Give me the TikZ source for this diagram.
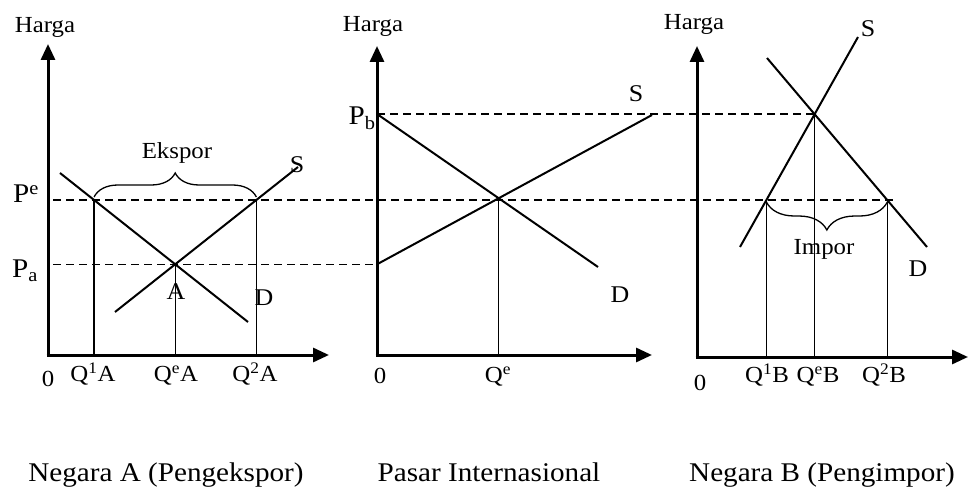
\documentclass[tikz,border=0pt]{standalone}
\usepackage{fontspec}
\setmainfont{Liberation Serif}[FakeStretch=1.08]
\usetikzlibrary{arrows.meta,decorations.pathreplacing}
\begin{document}
\begin{tikzpicture}[x=1bp,y=-1bp,
  axis/.style={line width=3bp,-{Triangle[length=16bp,width=14bp]}},
  curve/.style={line width=2bp},
  guide/.style={line width=1.3bp},
  dashline/.style={line width=1.6bp,dash pattern=on 8bp off 5bp},
  bracestyle/.style={line width=1.3bp,decorate},
  lbl/.style={anchor=base,inner sep=0pt,font=\fontsize{23bp}{25bp}\selectfont},
  plbl/.style={anchor=base,inner sep=0pt,font=\fontsize{27bp}{29bp}\selectfont},
  clbl/.style={anchor=base,inner sep=0pt,font=\fontsize{24bp}{26bp}\selectfont},
  captionlbl/.style={anchor=base,inner sep=0pt,font=\fontsize{27bp}{29bp}\selectfont}]
\useasboundingbox (0,0) rectangle (970,489);

% ---------- coordinates ----------
% left panel
\coordinate (O1) at (48,355);
\coordinate (Y1) at (48,44);
\coordinate (X1) at (329,355);
\coordinate (D1a) at (60,173);
\coordinate (D1b) at (248,322);
\coordinate (S1a) at (115,312);
\coordinate (S1b) at (298,167);
\coordinate (PeL) at (53,200);
\coordinate (PeR) at (895,200);
\coordinate (EA) at (intersection of D1a--D1b and S1a--S1b);
\coordinate (Q1A) at (intersection of D1a--D1b and PeL--PeR);
\coordinate (Q2A) at (intersection of S1a--S1b and PeL--PeR);
% middle panel
\coordinate (O2) at (377,355);
\coordinate (Y2) at (377,46);
\coordinate (X2) at (652,355);
\coordinate (D2a) at (377,114);
\coordinate (D2b) at (598,267);
\coordinate (S2a) at (O2 |- EA);
\coordinate (S2b) at (652,115);
\coordinate (E2) at (intersection of D2a--D2b and S2a--S2b);
% right panel
\coordinate (O3) at (697,357);
\coordinate (Y3) at (697,46);
\coordinate (X3) at (968,357);
\coordinate (S3a) at (740,247);
\coordinate (S3b) at (858,37);
\coordinate (D3a) at (767,58);
\coordinate (D3b) at (927,247);
\coordinate (E3) at (intersection of S3a--S3b and D3a--D3b);
\coordinate (Q1B) at (intersection of S3a--S3b and PeL--PeR);
\coordinate (Q2B) at (intersection of D3a--D3b and PeL--PeR);

% ---------- dashed price lines ----------
\draw[dashline] (PeL) -- (PeR);
\draw[dashline] (PeL |- EA) -- (S2a);
\draw[dashline] (D2a) -- (D2a -| E3);

% ---------- axes ----------
\draw[axis,shorten <=-1.5bp] (O1) -- (Y1);
\draw[axis,shorten <=-1.5bp] (O1) -- (X1);
\draw[axis,shorten <=-1.5bp] (O2) -- (Y2);
\draw[axis,shorten <=-1.5bp] (O2) -- (X2);
\draw[axis,shorten <=-1.5bp] (O3) -- (Y3);
\draw[axis,shorten <=-1.5bp] (O3) -- (X3);

% ---------- curves ----------
\draw[curve] (D1a) -- (D1b);
\draw[curve] (S1a) -- (S1b);
\draw[curve] (D2a) -- (D2b);
\draw[curve] (S2a) -- (S2b);
\draw[curve] (S3a) -- (S3b);
\draw[curve] (D3a) -- (D3b);

% ---------- vertical guides ----------
\draw[guide] (Q1A) -- (Q1A |- O1);
\draw[guide] (EA) -- (EA |- O1);
\draw[guide] (Q2A) -- (Q2A |- O1);
\draw[guide] (E2) -- (E2 |- O2);
\draw[guide] (Q1B) -- (Q1B |- O3);
\draw[guide] (E3) -- (E3 |- O3);
\draw[guide] (Q2B) -- (Q2B |- O3);

% ---------- braces ----------
\draw[bracestyle,decoration={brace,amplitude=24bp,raise=3bp}] (Q1A) -- (Q2A);
\draw[bracestyle,decoration={brace,amplitude=28bp,raise=2bp}] (Q2B) -- (Q1B);

% ---------- labels ----------
\node[lbl] (harga1) at (45,33) {Harga};
\node[lbl] (harga2) at (373,32) {Harga};
\node[lbl] (harga3) at (694,30) {Harga};

\node[plbl] (pe) at (26,203) {P\textsuperscript{e}};
\node[plbl] (pa) at (25,278) {P\textsubscript{a}};
\node[plbl] (pb) at (362,125) {P\textsubscript{b}};

\node[lbl] (zero1) at (48,387) {0};
\node[lbl] (q1a) at (93,382) {Q\textsuperscript{1}A};
\node[lbl] (qea) at (176,382) {Q\textsuperscript{e}A};
\node[lbl] (q2a) at (255,382) {Q\textsuperscript{2}A};
\node[lbl] (zero2) at (380,384) {0};
\node[lbl] (qe) at (498,383) {Q\textsuperscript{e}};
\node[lbl] (zero3) at (700,390) {0};
\node[lbl] (q1b) at (767,383) {Q\textsuperscript{1}B};
\node[lbl] (qeb) at (818,383) {Q\textsuperscript{e}B};
\node[lbl] (q2b) at (884,383) {Q\textsuperscript{2}B};

\node[clbl] (s1) at (297,173) {S};
\node[clbl] (d1) at (264,306) {D};
\node[clbl] (alab) at (176,300) {A};
\node[clbl] (s2) at (636,102) {S};
\node[clbl] (d2) at (620,303) {D};
\node[clbl] (s3) at (868,37) {S};
\node[clbl] (d3) at (918,277) {D};

\node[lbl] (ekspor) at (177,159) {Ekspor};
\node[lbl] (impor) at (824,255) {Impor};

\node[captionlbl] (capA) at (166,481) {Negara A (Pengekspor)};
\node[captionlbl] (capM) at (489,481) {Pasar Internasional};
\node[captionlbl] (capB) at (822,481) {Negara B (Pengimpor)};
\end{tikzpicture}
\end{document}
